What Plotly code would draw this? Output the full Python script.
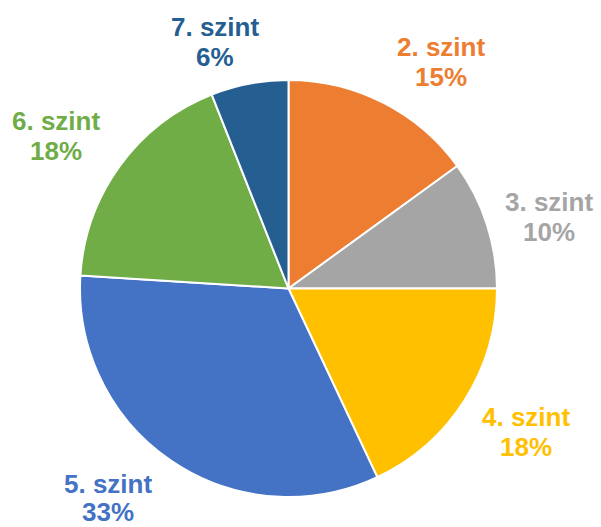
import plotly.graph_objects as go

categories = ["2. szint", "3. szint", "4. szint", "5. szint", "6. szint", "7. szint"]
values = [15, 10, 18, 33, 18, 6]
colors = ["#ED7D31", "#A5A5A5", "#FFC000", "#4472C4", "#70AD47", "#255E91"]

W, H = 601, 527
cx, cy, R = 288.5, 288.5, 208.5
# label layout only (pixels): name-line centre and gap to the percent line
label_pos = [(441, 47), (549, 202), (526, 417), (108, 484), (56, 121), (215, 27)]
line_gaps = [30, 30, 30, 28, 30, 30]

fig = go.Figure(go.Pie(
    labels=categories, values=values, sort=False, direction="clockwise", rotation=0,
    marker=dict(colors=colors, line=dict(color="white", width=2)),
    textinfo="none", hoverinfo="label+percent", showlegend=False,
    domain=dict(x=[(cx - R) / W, (cx + R) / W], y=[1 - (cy + R) / H, 1 - (cy - R) / H]),
))

total = sum(values)
for cat, v, col, (px, py), gap in zip(categories, values, colors, label_pos, line_gaps):
    pct = f"{round(v / total * 100)}%"
    for i, txt in enumerate([cat, pct]):
        fig.add_annotation(
            x=px / W, y=1 - (py + i * gap) / H, xref="paper", yref="paper",
            text=f"<b>{txt}</b>", showarrow=False,
            font=dict(family="Liberation Sans, Arial", size=26, color=col),
            xanchor="center", yanchor="middle", align="center",
        )

fig.update_layout(width=W, height=H, margin=dict(l=0, r=0, t=0, b=0),
                  paper_bgcolor="white", plot_bgcolor="white")
fig.write_html("out.html", config={"displayModeBar": False},
               post_script="document.body.style.margin='0';document.body.style.overflow='hidden';")
